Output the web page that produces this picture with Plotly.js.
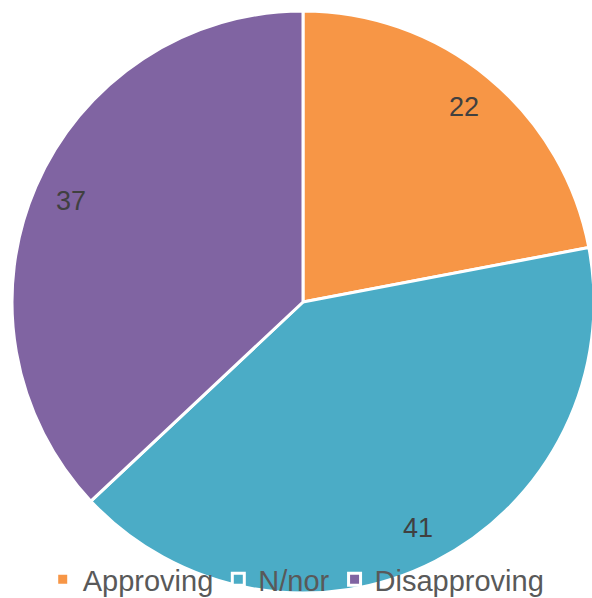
<!DOCTYPE html>
<html>
<head>
<meta charset="utf-8">
<script src="https://cdn.plot.ly/plotly-3.0.1.min.js"></script>
<style>html,body{margin:0;padding:0;background:#fff;overflow:hidden;}#chart{width:596px;height:605px;}</style>
</head>
<body>
<div id="chart"></div>
<script>
const categories = ["Approving", "N/nor", "Disapproving"];
const values = [22, 41, 37];
const colors = ["#F79646", "#4BACC6", "#8064A2"];

// pie geometry in pixels (paper = full page, zero margins; page is slightly
// larger than the 592x598 window so the clipped pie edge matches)
const PW = 596, PH = 605;
const CX = 303, CY = 302, R = 291;

const total = values.reduce((a, b) => a + b, 0);
let cum = 0;
const annotations = values.map(v => {
  const mid = (cum + v / 2) / total * 2 * Math.PI;
  cum += v;
  const px = CX + Math.sin(mid) * R * 0.87;
  const py = CY - Math.cos(mid) * R * 0.87;
  return {
    x: px / PW, y: 1 - py / PH, xref: "paper", yref: "paper",
    text: String(v), showarrow: false, xanchor: "center", yanchor: "middle",
    font: {family: "Liberation Sans, Arial, sans-serif", size: 27, color: "#404040"}
  };
});

const data = [{
  type: "pie",
  labels: categories,
  values: values,
  sort: false,
  direction: "clockwise",
  rotation: 0,
  marker: {colors: colors, line: {color: "#FFFFFF", width: 3}},
  textinfo: "none",
  hoverinfo: "none",
  domain: {x: [(CX - R) / PW, (CX + R) / PW], y: [1 - (CY + R) / PH, 1 - (CY - R) / PH]}
}];

const layout = {
  width: PW, height: PH,
  margin: {l: 0, r: 0, t: 0, b: 0, pad: 0},
  paper_bgcolor: "#FFFFFF",
  showlegend: true,
  legend: {
    orientation: "h", x: 0.497, xanchor: "center", y: 0, yanchor: "bottom",
    bgcolor: "rgba(0,0,0,0)", borderwidth: 0,
    font: {family: "Liberation Sans, Arial, sans-serif", size: 29, color: "#595959"},
    itemwidth: 30
  },
  annotations: annotations
};

Plotly.newPlot("chart", data, layout, {displayModeBar: false, staticPlot: true});
</script>
</body>
</html>
